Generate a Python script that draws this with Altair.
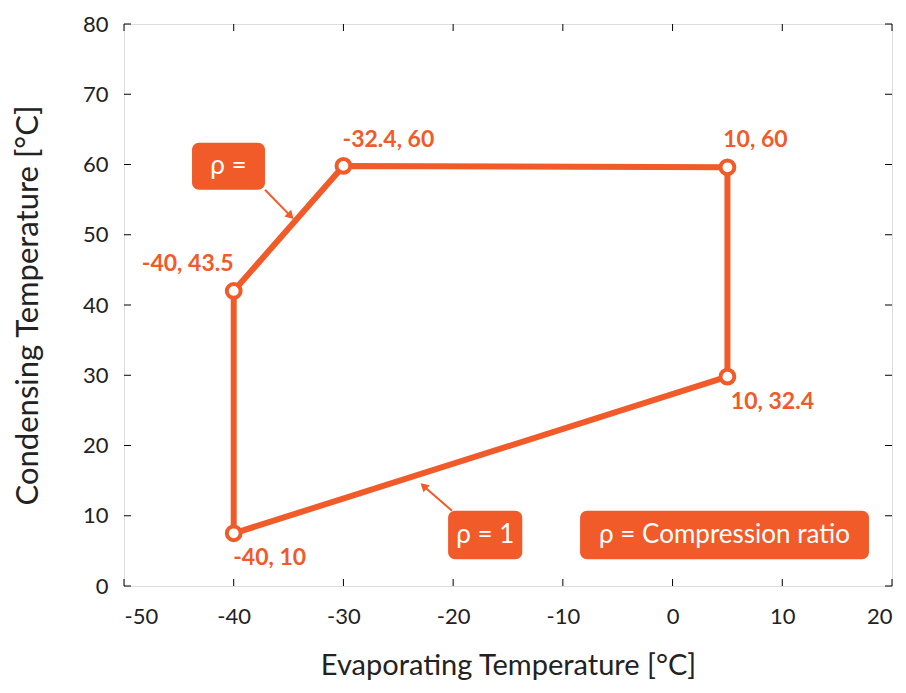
import altair as alt
import pandas as pd

# Envelope data (plotted positions)
evap = [-40, -40, -30, 5, 5, -40]
cond = [7.5, 42, 59.8, 59.6, 29.8, 7.5]
order = [0, 1, 2, 3, 4, 5]

# Point labels
lab_text = ["-40, 10", "-40, 43.5", "-32.4, 60", "10, 60", "10, 32.4"]
lab_dx = [36, -46, 45, 28, 45]
lab_dy = [25, -27, -26, -27, 25]

x_ticks = [-50, -40, -30, -20, -10, 0, 10, 20]
y_ticks = [0, 10, 20, 30, 40, 50, 60, 70, 80]

# Annotation boxes (data units)
box_text = ["ρ =", "ρ = 1", "ρ = Compression ratio"]
box_x1 = [-43.8, -20.46, -8.43]
box_x2 = [-37.15, -13.7, 17.9]
box_y1 = [56.4, 3.8, 3.8]
box_y2 = [63.1, 10.7, 10.7]

# Arrows (data units)
arr_x1 = [-37.15, -20.1]
arr_y1 = [56.4, 10.7]
arr_x2 = [-34.9, -22.6]
arr_y2 = [52.8, 14.1]
arr_angle = [135, 312]

ORANGE = "#F15A29"
W, H = 768, 562
FONT = "Lato"

df = pd.DataFrame({"x": evap, "y": cond, "o": order})
pts = pd.DataFrame({"x": evap[:5], "y": cond[:5]})

xs = alt.Scale(domain=[-50, 20], nice=False, zero=False)
ys = alt.Scale(domain=[0, 80], nice=False, zero=False)

xaxis = alt.Axis(values=x_ticks, ticks=False, domain=False, grid=False,
                 labelFontSize=22, labelFont=FONT, labelColor="#222",
                 labelPadding=20, titleFontSize=29, titleFont=FONT,
                 titleFontWeight="normal", titleColor="#222", titlePadding=24,
                 labelExpr="'' + datum.value")
yaxis = alt.Axis(values=y_ticks, ticks=False, domain=False, grid=False,
                 labelFontSize=22, labelFont=FONT, labelColor="#222",
                 labelPadding=16, titleFontSize=31, titleFont=FONT,
                 titleFontWeight="normal", titleColor="#222", titlePadding=38,
                 labelExpr="'' + datum.value")

base = alt.Chart(df)

line = base.mark_line(color=ORANGE, strokeWidth=6, strokeJoin="round").encode(
    x=alt.X("x:Q", scale=xs, axis=xaxis, title="Evaporating Temperature [°C]"),
    y=alt.Y("y:Q", scale=ys, axis=yaxis, title="Condensing Temperature [°C]"),
    order="o:Q",
)

points = alt.Chart(pts).mark_point(
    shape="circle", filled=True, fill="white", stroke=ORANGE, strokeWidth=4,
    size=190, opacity=1
).encode(x=alt.X("x:Q", scale=xs), y=alt.Y("y:Q", scale=ys))

layers = [line, points]

for i, t in enumerate(lab_text):
    d = pd.DataFrame({"x": [evap[i]], "y": [cond[i]], "t": [t]})
    layers.append(
        alt.Chart(d).mark_text(
            color=ORANGE, fontSize=23, fontWeight="bold", font=FONT,
            dx=lab_dx[i], dy=lab_dy[i]
        ).encode(x=alt.X("x:Q", scale=xs), y=alt.Y("y:Q", scale=ys), text="t:N")
    )

boxes = pd.DataFrame({"t": box_text, "x1": box_x1, "x2": box_x2,
                      "y1": box_y1, "y2": box_y2})
boxes["cx"] = (boxes["x1"] + boxes["x2"]) / 2
boxes["cy"] = (boxes["y1"] + boxes["y2"]) / 2

layers.append(
    alt.Chart(boxes).mark_rect(color=ORANGE, cornerRadius=7).encode(
        x=alt.X("x1:Q", scale=xs), x2="x2:Q",
        y=alt.Y("y1:Q", scale=ys), y2="y2:Q")
)
layers.append(
    alt.Chart(boxes).mark_text(color="white", fontSize=26, font=FONT).encode(
        x=alt.X("cx:Q", scale=xs), y=alt.Y("cy:Q", scale=ys), text="t:N")
)

arrows = pd.DataFrame({"x1": arr_x1, "y1": arr_y1, "x2": arr_x2, "y2": arr_y2,
                       "a": arr_angle})
layers.append(
    alt.Chart(arrows).mark_rule(color=ORANGE, strokeWidth=2).encode(
        x=alt.X("x1:Q", scale=xs), x2="x2:Q",
        y=alt.Y("y1:Q", scale=ys), y2="y2:Q")
)
layers.append(
    alt.Chart(arrows).mark_point(shape="triangle", filled=True, color=ORANGE,
                                 size=90, opacity=1).encode(
        x=alt.X("x2:Q", scale=xs), y=alt.Y("y2:Q", scale=ys),
        angle=alt.Angle("a:Q", scale=None))
)

# inward ticks
xt = pd.DataFrame({"v": x_ticks})
yt = pd.DataFrame({"v": y_ticks})
TL = 7
layers += [
    alt.Chart(xt).mark_rule(color="black", strokeWidth=1).encode(
        x=alt.X("v:Q", scale=xs), y=alt.value(H), y2=alt.value(H - TL)),
    alt.Chart(xt).mark_rule(color="black", strokeWidth=1).encode(
        x=alt.X("v:Q", scale=xs), y=alt.value(0), y2=alt.value(TL)),
    alt.Chart(yt).mark_rule(color="black", strokeWidth=1).encode(
        y=alt.Y("v:Q", scale=ys), x=alt.value(0), x2=alt.value(TL)),
    alt.Chart(yt).mark_rule(color="black", strokeWidth=1).encode(
        y=alt.Y("v:Q", scale=ys), x=alt.value(W), x2=alt.value(W - TL)),
]

chart = alt.layer(*layers).properties(
    width=W, height=H,
    padding={"left": 4, "top": 5, "right": 5, "bottom": 5},
).configure_view(stroke="black", strokeWidth=1.2).configure(background="white")

chart.save("out.html", embed_options={"renderer": "svg", "actions": False})
